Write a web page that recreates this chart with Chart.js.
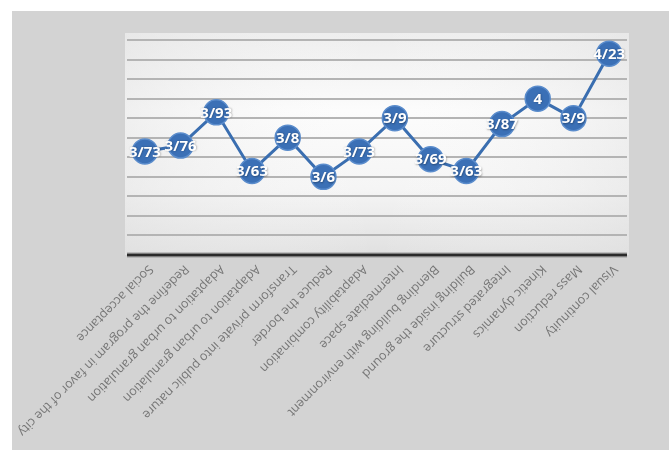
<!DOCTYPE html>
<html>
<head>
<meta charset="utf-8">
<script src="https://cdn.jsdelivr.net/npm/chart.js@4/dist/chart.umd.min.js"></script>
<style>
html,body{margin:0;padding:0;background:#ffffff;}
#wrap{position:relative;width:669px;height:450px;}
</style>
</head>
<body>
<div id="wrap"><canvas id="c" width="669" height="450"></canvas></div>
<script>
const categories = [
  "Social acceptance",
  "Redefine the program in favor of the city",
  "Adaptation to urban granulation",
  "Adaptation to urban granulation",
  "Transform private into public nature",
  "Reduce the border",
  "Adaptability combination",
  "Intermediate space",
  "Blending building with environment",
  "Building inside the ground",
  "Integrated structure",
  "Kinetic dynamics",
  "Mass reduction",
  "Visual continuity"
];
const scores = [3.73, 3.76, 3.93, 3.63, 3.8, 3.6, 3.73, 3.9, 3.69, 3.63, 3.87, 4, 3.9, 4.23];
const yMin = 3.2;
const yMax = 4.3;
const yStep = 0.1;

const bgPlugin = {
  id: 'bg',
  beforeDraw(chart) {
    const ctx = chart.ctx;
    const a = chart.chartArea;
    ctx.save();
    ctx.fillStyle = '#d3d3d3';
    ctx.fillRect(12, 11, chart.width - 12, chart.height - 11);
    const top = a.top - 7, left = a.left - 2, w = a.right - a.left + 4, h = a.bottom - top;
    const g = ctx.createLinearGradient(0, top, 0, a.bottom);
    g.addColorStop(0, '#ededed');
    g.addColorStop(0.35, '#fcfcfc');
    g.addColorStop(0.7, '#f5f5f5');
    g.addColorStop(1, '#e0e0e0');
    ctx.fillStyle = g;
    ctx.fillRect(left, top, w, h);
    const g2 = ctx.createLinearGradient(left, 0, left + w, 0);
    g2.addColorStop(0, 'rgba(225,225,225,0.45)');
    g2.addColorStop(0.5, 'rgba(255,255,255,0)');
    g2.addColorStop(1, 'rgba(225,225,225,0.45)');
    ctx.fillStyle = g2;
    ctx.fillRect(left, top, w, h);
    ctx.restore();
  },
  beforeDatasetsDraw(chart) {
    const ctx = chart.ctx;
    const a = chart.chartArea;
    const y = chart.scales.y.getPixelForValue(yMin);
    ctx.save();
    ctx.strokeStyle = '#9a9a9a';
    ctx.lineWidth = 5;
    ctx.beginPath(); ctx.moveTo(a.left, y); ctx.lineTo(a.right, y); ctx.stroke();
    ctx.strokeStyle = '#2a2a2a';
    ctx.lineWidth = 2.5;
    ctx.beginPath(); ctx.moveTo(a.left, y); ctx.lineTo(a.right, y); ctx.stroke();
    ctx.restore();
  },
  afterDatasetsDraw(chart) {
    const ctx = chart.ctx;
    const meta = chart.getDatasetMeta(0);
    ctx.save();
    ctx.font = 'bold 15px "Liberation Sans Narrow", "Open Sans", sans-serif';
    ctx.textAlign = 'center';
    ctx.textBaseline = 'middle';
    ctx.shadowColor = 'rgba(0,0,0,0.35)';
    ctx.shadowBlur = 2;
    ctx.shadowOffsetX = 0.5;
    ctx.shadowOffsetY = 0.5;
    ctx.fillStyle = '#ffffff';
    meta.data.forEach((pt, i) => {
      const txt = String(scores[i]).replace('.', '/');
      ctx.fillText(txt, pt.x, pt.y + 1);
    });
    ctx.restore();
    // category labels
    const xs = chart.scales.x;
    const yBase = chart.scales.y.getPixelForValue(yMin);
    ctx.save();
    ctx.font = '12.5px "Open Sans", sans-serif';
    ctx.fillStyle = '#767676';
    ctx.textAlign = 'left';
    ctx.textBaseline = 'middle';
    categories.forEach((c, i) => {
      const px = xs.getPixelForTick(i);
      ctx.save();
      ctx.translate(px + 6, yBase + 12);
      ctx.rotate(Math.PI * 3 / 4);
      ctx.fillText(c, 0, 0);
      ctx.restore();
    });
    ctx.restore();
  }
};

new Chart(document.getElementById('c'), {
  type: 'line',
  data: {
    labels: categories,
    datasets: [{
      data: scores,
      borderColor: '#3a6eb0',
      borderWidth: 3,
      backgroundColor: '#3b70b6',
      pointBackgroundColor: '#3b70b6',
      pointBorderColor: '#5a8ccc',
      pointBorderWidth: 1.5,
      pointRadius: 12.5,
      pointHoverRadius: 12.5,
      tension: 0,
      fill: false
    }]
  },
  plugins: [bgPlugin],
  options: {
    responsive: false,
    animation: false,
    events: [],
    layout: { padding: { left: 127, right: 42, top: 40, bottom: 195 } },
    plugins: { legend: { display: false }, tooltip: { enabled: false } },
    scales: {
      x: {
        type: 'category',
        offset: true,
        grid: { display: false, drawTicks: false },
        border: { display: false },
        ticks: { display: false },
        afterFit(s) { s.height = 0; }
      },
      y: {
        min: yMin,
        max: yMax,
        border: { display: false },
        ticks: { display: false, stepSize: yStep },
        grid: {
          drawTicks: false,
          lineWidth: 2,
          color: (ctx) => (ctx.tick && Math.abs(ctx.tick.value - yMin) < 1e-6) ? 'rgba(0,0,0,0)' : '#b4b4b4'
        },
        afterFit(s) { s.width = 0; }
      }
    }
  }
});
</script>
</body>
</html>
